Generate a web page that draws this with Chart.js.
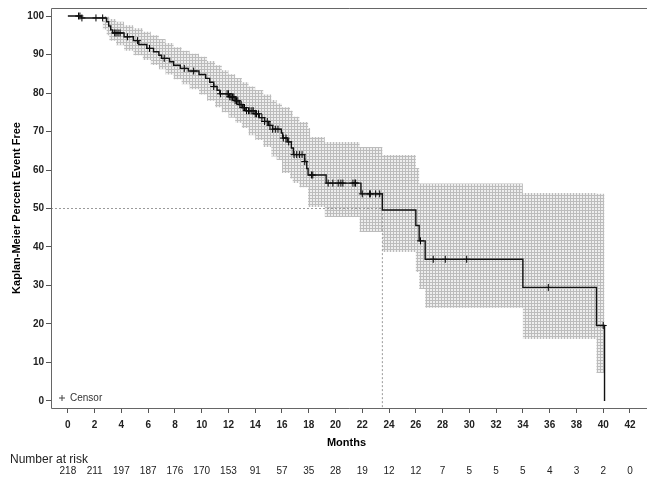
<!DOCTYPE html>
<html>
<head>
<meta charset="utf-8">
<script src="https://cdn.jsdelivr.net/npm/chart.js@4/dist/chart.umd.min.js"></script>
<style>
body { margin: 0; background: #fff; }
#wrap { width: 647px; height: 477px; position: relative; }
</style>
</head>
<body>
<div id="wrap"><canvas id="km"></canvas></div>
<script>
// Kaplan-Meier curve: month of each step and percent event free after it
var stepMonths = [0, 1.0, 2.9, 3.05, 3.2, 3.35, 4.2, 4.9, 5.3, 5.9, 6.4, 6.8, 7.0, 7.6, 7.9, 8.4, 9.0, 9.8, 10.3, 10.6,
    10.9, 11.15, 11.35, 12.1, 12.5, 12.8, 13.05, 13.3, 14.0, 14.3, 14.7, 15.0, 15.3, 15.95, 16.05, 16.4, 16.7, 16.85,
    17.7, 17.85, 17.95, 19.3, 21.9, 23.5, 26.0, 26.25, 26.7, 34.0, 39.5, 40.1];
var stepValues = [100, 99.5, 98.5, 97.4, 96.4, 95.6, 94.6, 93.6, 92.6, 91.6, 90.7, 89.8, 89.0, 88.1, 87.2, 86.4, 85.7, 84.8, 83.8, 82.8,
    81.7, 80.7, 79.8, 79.0, 78.0, 77.0, 76.2, 75.4, 74.6, 73.6, 72.6, 71.6, 70.6, 69.6, 68.3, 67.3, 65.7, 64.0,
    62.2, 60.4, 58.7, 56.6, 53.8, 49.6, 45.6, 41.6, 36.8, 29.5, 19.6, 0];

// censored patients (months)
var censorMonths = [0.8, 0.9, 1.05, 2.1, 2.6, 3.5, 3.6, 3.75, 3.9, 4.45, 5.2, 6.1, 7.2, 8.7, 9.4, 10.9, 11.4,
    11.9, 12.0, 12.1, 12.2, 12.3, 12.4, 12.5, 12.6, 12.7, 12.85, 12.95, 13.1, 13.2, 13.35, 13.5, 13.6, 13.75, 13.85,
    14.0, 14.1, 14.25, 14.5, 14.7, 14.9, 15.1, 15.3, 15.5, 15.7, 16.1, 16.3, 16.5, 16.9, 17.1, 17.3, 17.5, 17.7,
    18.2, 18.3, 19.45, 19.8, 20.2, 20.4, 20.55, 21.3, 21.45, 21.5, 22.0, 22.55, 22.6, 23.0, 23.3,
    26.35, 27.3, 28.2, 29.8, 35.9, 40.0];

// confidence band
var bandMonths = [2.6, 2.9, 3.1, 3.6, 4.2, 4.9, 5.6, 6.2, 6.8, 7.3, 7.9, 8.5, 9.1, 9.8, 10.4, 11.0, 11.5, 12.0, 12.5,
    13.0, 13.5, 14.0, 14.6, 15.2, 15.6, 16.0, 16.6, 16.8, 17.3, 17.95, 18.1, 19.2, 21.8, 23.5, 26.0, 26.25, 26.7,
    34.0, 39.5, 40.1];
var bandUpper = [100, 99.8, 99.2, 98.5, 97.6, 96.8, 95.9, 95.0, 94.0, 93.0, 91.9, 91.0, 90.2, 89.4, 88.3, 87.2, 85.9, 84.9, 83.9,
    82.8, 81.7, 80.8, 79.6, 78.2, 77.3, 76.3, 75.4, 73.8, 72.5, 70.9, 68.6, 67.3, 66.0, 63.9, 60.5, 56.5, 56.5,
    54.0, 53.8, 53.8];
var bandLower = [96.5, 95.0, 93.6, 92.4, 91.0, 89.8, 88.6, 87.3, 86.2, 84.8, 83.6, 82.3, 81.0, 79.6, 78.0, 76.3, 75.0, 73.6, 72.3,
    70.9, 69.0, 67.8, 66.0, 63.5, 62.6, 59.2, 57.8, 56.6, 55.5, 50.4, 50.4, 47.8, 43.9, 38.7, 33.5, 29.1, 24.2,
    16.1, 7.3, 7.3];

var riskMonths = [0, 2, 4, 6, 8, 10, 12, 14, 16, 18, 20, 22, 24, 26, 28, 30, 32, 34, 36, 38, 40, 42];
var riskCounts = [218, 211, 197, 187, 176, 170, 153, 91, 57, 35, 28, 19, 12, 12, 7, 5, 5, 5, 4, 3, 2, 0];
var xTicks = riskMonths;
var yTicks = [0, 10, 20, 30, 40, 50, 60, 70, 80, 90, 100];

var medianMonths = 23.5;
var medianValue = 50;

var X_MIN = -1.26, X_MAX = 42.9, Y_MIN = -1.82, Y_MAX = 102.08;

function survivalAt(m) {
    var v = stepValues[0];
    for (var i = 0; i < stepMonths.length; i++) {
        if (stepMonths[i] <= m) v = stepValues[i];
    }
    return v;
}

function pairs(xs, ys) {
    return xs.map(function (x, i) { return { x: x, y: ys[i] }; });
}

// grey cross-hatch for the band
var pc = document.createElement("canvas");
pc.width = 3; pc.height = 3;
var pctx = pc.getContext("2d");
pctx.fillStyle = "#eeeeee";
pctx.fillRect(0, 0, 3, 3);
pctx.fillStyle = "#bcbcbc";
pctx.fillRect(0, 0, 3, 1);
pctx.fillRect(0, 0, 1, 3);
var hatch = pctx.createPattern(pc, "repeat");

var extras = {
    id: "extras",
    afterDraw: function (chart) {
        var ctx = chart.ctx, a = chart.chartArea, xs = chart.scales.x;
        ctx.save();
        // frame (top, left, bottom)
        ctx.strokeStyle = "#666";
        ctx.lineWidth = 1;
        ctx.beginPath();
        ctx.moveTo(chart.width, a.top + 0.5);
        ctx.lineTo(a.left + 0.5, a.top + 0.5);
        ctx.lineTo(a.left + 0.5, a.bottom + 0.5);
        ctx.lineTo(chart.width, a.bottom + 0.5);
        ctx.stroke();

        // censor key
        var kx = a.left + 11, ky = a.bottom - 10;
        ctx.strokeStyle = "#444";
        ctx.beginPath();
        ctx.moveTo(kx - 3, ky); ctx.lineTo(kx + 3, ky);
        ctx.moveTo(kx, ky - 3); ctx.lineTo(kx, ky + 3);
        ctx.stroke();
        ctx.fillStyle = "#333";
        ctx.font = "10px 'Liberation Sans', Arial, sans-serif";
        ctx.textBaseline = "middle";
        ctx.textAlign = "left";
        ctx.fillText("Censor", kx + 8, ky);

        // number at risk
        ctx.fillStyle = "#222";
        ctx.font = "12px 'Liberation Sans', Arial, sans-serif";
        ctx.fillText("Number at risk", 10, 460);
        ctx.font = "10px 'Liberation Sans', Arial, sans-serif";
        ctx.textAlign = "center";
        riskMonths.forEach(function (m, i) {
            ctx.fillText(String(riskCounts[i]), xs.getPixelForValue(m), 471);
        });
        ctx.restore();
    }
};

var ctx = document.getElementById("km").getContext("2d");
var kmChart = new Chart(ctx, {
    type: "line",
    data: {
        datasets: [
            {
                label: "KM",
                data: pairs(stepMonths, stepValues),
                stepped: true,
                borderColor: "#111",
                borderWidth: 1.4,
                pointRadius: 0,
                fill: false
            },
            {
                label: "Censor",
                data: censorMonths.map(function (m) { return { x: m, y: survivalAt(m) }; }),
                showLine: false,
                pointStyle: "cross",
                pointRadius: 3.5,
                pointBorderColor: "#000",
                pointBorderWidth: 1,
                fill: false
            },
            {
                label: "Median",
                data: [{ x: X_MIN, y: medianValue }, { x: medianMonths, y: medianValue }, { x: medianMonths, y: Y_MIN }],
                borderColor: "#9a9a9a",
                borderWidth: 1,
                borderDash: [2, 2],
                pointRadius: 0,
                fill: false
            },
            {
                label: "Upper",
                data: pairs(bandMonths, bandUpper),
                stepped: true,
                borderWidth: 0,
                borderColor: "rgba(0,0,0,0)",
                pointRadius: 0,
                backgroundColor: hatch,
                fill: "+1"
            },
            {
                label: "Lower",
                data: pairs(bandMonths, bandLower),
                stepped: true,
                borderWidth: 0,
                borderColor: "rgba(0,0,0,0)",
                pointRadius: 0,
                fill: false
            }
        ]
    },
    options: {
        responsive: true,
        maintainAspectRatio: false,
        animation: false,
        layout: { padding: { top: 8, right: 1, left: 0, bottom: 0 } },
        plugins: {
            legend: { display: false },
            tooltip: { enabled: false }
        },
        scales: {
            x: {
                type: "linear",
                min: X_MIN,
                max: X_MAX,
                afterBuildTicks: function (s) { s.ticks = xTicks.map(function (v) { return { value: v }; }); },
                afterFit: function (s) { s.height = 69; },
                border: { display: false },
                grid: { drawOnChartArea: false, drawTicks: true, tickLength: 5, color: "#555" },
                ticks: {
                    padding: 6,
                    maxRotation: 0,
                    autoSkip: false,
                    color: "#222",
                    font: { family: "'Liberation Sans', Arial, sans-serif", size: 10, weight: "bold" }
                },
                title: {
                    display: true,
                    text: "Months",
                    color: "#000",
                    padding: { top: 0, bottom: 27 },
                    font: { family: "'Liberation Sans', Arial, sans-serif", size: 11, weight: "bold" }
                }
            },
            y: {
                type: "linear",
                min: Y_MIN,
                max: Y_MAX,
                afterBuildTicks: function (s) { s.ticks = yTicks.map(function (v) { return { value: v }; }); },
                afterFit: function (s) { s.width = 51; },
                border: { display: false },
                grid: { drawOnChartArea: false, drawTicks: true, tickLength: 5, color: "#555" },
                ticks: {
                    padding: 2,
                    color: "#222",
                    font: { family: "'Liberation Sans', Arial, sans-serif", size: 10, weight: "bold" }
                },
                title: {
                    display: true,
                    text: "Kaplan-Meier Percent Event Free",
                    color: "#000",
                    padding: { top: 10, bottom: 0 },
                    font: { family: "'Liberation Sans', Arial, sans-serif", size: 11, weight: "bold" }
                }
            }
        }
    },
    plugins: [extras]
});
</script>
</body>
</html>
